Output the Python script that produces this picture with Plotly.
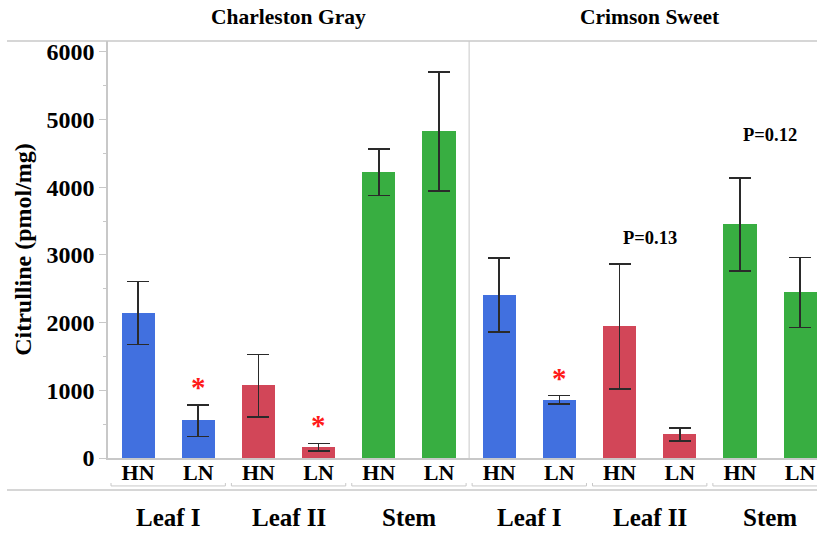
import plotly.graph_objects as go

# Citrulline content (pmol/mg) by cultivar, tissue and nitrogen level
cultivars = ["Charleston Gray", "Crimson Sweet"]
tissues = ["Leaf I", "Leaf II", "Stem"]
nitrogen = ["HN", "LN"]

# bar means, ordered cultivar -> tissue -> nitrogen
means = [2150, 565, 1085, 165, 4225, 4830,
         2415, 860, 1950, 350, 3455, 2460]
err_plus = [460, 220, 445, 52, 345, 870,
            540, 62, 920, 90, 680, 500]
err_minus = [475, 245, 480, 62, 345, 885,
             550, 65, 930, 100, 695, 530]

tissue_colors = {"Leaf I": "#4170DF", "Leaf II": "#D24658", "Stem": "#38AE41"}

# significance marks: (bar index, text)
stars = [(1, "*"), (3, "*"), (7, "*")]
p_labels = [(8.5, 3250, "P=0.13"), (10.5, 4770, "P=0.12")]

FONT = "Liberation Serif"
GRID = "#c8c8c8"

xs, colors, ticktext = [], [], []
i = 0
for c in cultivars:
    for t in tissues:
        for n in nitrogen:
            xs.append(i)
            colors.append(tissue_colors[t])
            ticktext.append(n)
            i += 1

fig = go.Figure()
fig.add_trace(go.Bar(
    x=xs, y=means, width=0.55,
    marker=dict(color=colors, line=dict(width=0)),
    error_y=dict(type="data", array=err_plus, arrayminus=err_minus,
                 color="#2a2a2a", thickness=1.6, width=11),
    showlegend=False,
))

annotations = []
shapes = []

# asterisks above the LN bars
for idx, txt in stars:
    annotations.append(dict(x=xs[idx], y=means[idx] + err_plus[idx], text=f"<b>{txt}</b>",
                            showarrow=False, yanchor="bottom", yshift=0,
                            font=dict(family=FONT, size=29, color="#ff1a1a")))

for x, y, txt in p_labels:
    annotations.append(dict(x=x, y=y, text=f"<b>{txt}</b>", showarrow=False,
                            yanchor="middle",
                            font=dict(family=FONT, size=18.5, color="black")))

# cultivar titles
for k, c in enumerate(cultivars):
    annotations.append(dict(x=2.5 + 6 * k, y=1.058, xref="x", yref="paper",
                            yanchor="middle", text=f"<b>{c}</b>", showarrow=False,
                            font=dict(family=FONT, size=21.5, color="black")))

# tissue group labels and brackets
for k in range(len(cultivars)):
    for j, t in enumerate(tissues):
        g = 6 * k + 2 * j
        annotations.append(dict(x=g + 0.5, y=-0.142, xref="x", yref="paper",
                                yanchor="middle", text=f"<b>{t}</b>", showarrow=False,
                                font=dict(family=FONT, size=25, color="black")))
        x0, x1 = g - 0.45, g + 1.45
        shapes.append(dict(type="line", xref="x", yref="paper", x0=x0, x1=x1,
                           y0=-0.067, y1=-0.067, line=dict(color=GRID, width=1)))
        for xe in (x0, x1):
            shapes.append(dict(type="line", xref="x", yref="paper", x0=xe, x1=xe,
                               y0=-0.067, y1=-0.06, line=dict(color=GRID, width=1)))

# panel divider
shapes.append(dict(type="line", xref="x", yref="paper", x0=5.5, x1=5.5,
                   y0=0, y1=1, line=dict(color=GRID, width=1)))
# frame lines above the plot and below the group brackets
shapes.append(dict(type="line", xref="paper", yref="paper", x0=-0.1425, x1=1,
                   y0=1, y1=1, line=dict(color=GRID, width=1.5)))
shapes.append(dict(type="line", xref="paper", yref="paper", x0=-0.1425, x1=1,
                   y0=-0.077, y1=-0.077, line=dict(color=GRID, width=1.5)))

fig.update_layout(
    width=817, height=534,
    margin=dict(l=108, r=0, t=41, b=76),
    paper_bgcolor="white", plot_bgcolor="white",
    annotations=annotations, shapes=shapes,
    bargap=0,
    xaxis=dict(range=[-0.5, 11.28], tickmode="array", tickvals=xs,
               ticktext=[f"<b>{t}</b>" for t in ticktext],
               tickfont=dict(family=FONT, size=22, color="black"),
               ticklabelstandoff=-6,
               showline=True, linecolor=GRID, linewidth=1.5,
               ticks="", showgrid=False, zeroline=False),
    yaxis=dict(range=[0, 6162], tickvals=[0, 1000, 2000, 3000, 4000, 5000, 6000],
               ticktext=[f"<b>{v}</b>" for v in [0, 1000, 2000, 3000, 4000, 5000, 6000]],
               tickfont=dict(family=FONT, size=24, color="black"),
               ticks="outside", ticklen=7, tickcolor=GRID, tickwidth=1.2,
               minor=dict(dtick=500, ticks="outside", ticklen=3, tickcolor=GRID),
               showline=True, linecolor=GRID, linewidth=1.5,
               showgrid=False, zeroline=False,
               title=dict(text="<b>Citrulline (pmol/mg)</b>",
                          font=dict(family=FONT, size=24, color="black"),
                          standoff=8)),
)

fig.write_html("out.html")
